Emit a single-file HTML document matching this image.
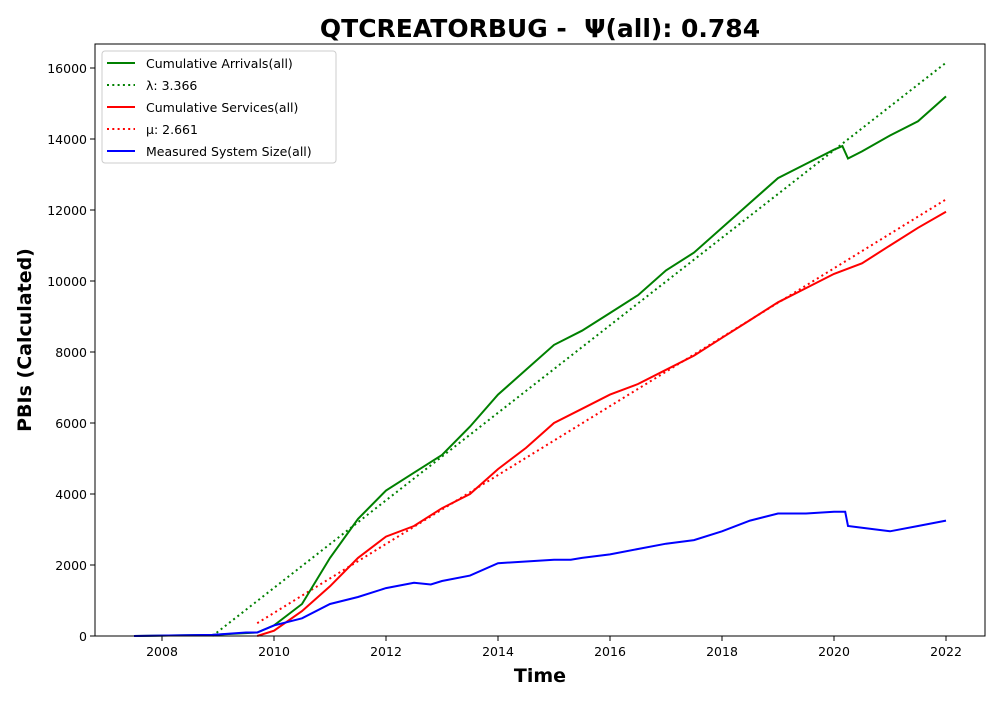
<!DOCTYPE html>
<html><head><meta charset="utf-8"><style>body{margin:0;background:#fff}svg{font-family:"DejaVu Sans","Liberation Sans",sans-serif}</style></head>
<body>
<svg id="c" width="1000" height="700" xmlns="http://www.w3.org/2000/svg"></svg>
<script>
const arrYears=[2007.5,2008.9,2009.7,2010,2010.5,2011,2011.5,2012,2012.5,2013,2013.5,2014,2014.5,2015,2015.5,2016,2016.5,2017,2017.5,2018,2018.5,2019,2019.5,2020,2020.15,2020.25,2020.5,2021,2021.5,2022];
const arrVals=[0,30,100,300,900,2200,3300,4100,4600,5100,5900,6800,7500,8200,8600,9100,9600,10300,10800,11500,12200,12900,13300,13700,13800,13450,13650,14100,14500,15200];
const srvYears=[2009.7,2010,2010.5,2011,2011.5,2012,2012.5,2013,2013.5,2014,2014.5,2015,2015.5,2016,2016.5,2017,2017.5,2018,2018.5,2019,2019.5,2020,2020.5,2021,2021.5,2022];
const srvVals=[0,150,700,1400,2200,2800,3100,3600,4000,4700,5300,6000,6400,6800,7100,7500,7900,8400,8900,9400,9800,10200,10500,11000,11500,11950];
const sysYears=[2007.5,2008.9,2009.5,2009.7,2010,2010.5,2011,2011.5,2012,2012.5,2012.8,2013,2013.5,2014,2014.5,2015,2015.3,2015.5,2016,2016.5,2017,2017.5,2018,2018.5,2019,2019.5,2020,2020.2,2020.25,2020.5,2021,2021.5,2022];
const sysVals=[0,30,100,100,300,500,900,1100,1350,1500,1450,1550,1700,2050,2100,2150,2150,2200,2300,2450,2600,2700,2950,3250,3450,3450,3500,3500,3100,3050,2950,3100,3250];
const lamYears=[2008.9,2022]; const lamVals=[0,16150];
const muYears=[2009.7,2022]; const muVals=[360,12300];
const xTicks=[2008,2010,2012,2014,2016,2018,2020,2022];
const yTicks=[0,2000,4000,6000,8000,10000,12000,14000,16000];
const legendLabels=["Cumulative Arrivals(all)","\u03bb: 3.366","Cumulative Services(all)","\u03bc: 2.661","Measured System Size(all)"];
const X=y=>162+56*(y-2008), Y=v=>636-v*0.0355;
const svg=document.getElementById('c'),NS="http://www.w3.org/2000/svg";
function mk(t,a,p){const e=document.createElementNS(NS,t);for(const k in a)e.setAttribute(k,a[k]);(p||svg).appendChild(e);return e;}
function txt(s,a,name){const e=mk('text',a);e.textContent=s;return e;}
txt("QTCREATORBUG - \u00a0\u03a8(all): 0.784",{x:540,y:37,'text-anchor':'middle','font-size':25,'font-weight':'bold'},'chart-title');
txt("Time",{x:540,y:682,'text-anchor':'middle','font-size':19,'font-weight':'bold'},'x-axis-title');
txt("PBIs (Calculated)",{x:31,y:340,'text-anchor':'middle','font-size':19,'font-weight':'bold',transform:'rotate(-90 31 340)'},'y-axis-title');
xTicks.forEach(t=>{const l=mk('line',{x1:X(t),x2:X(t),y1:636,y2:641,stroke:'#000'});
txt(String(t),{x:X(t),y:656,'text-anchor':'middle','font-size':12.5},'x-tick-label');});
yTicks.forEach(t=>{const l=mk('line',{x1:90,x2:95,y1:Y(t),y2:Y(t),stroke:'#000'});
txt(String(t),{x:87,y:Y(t)+5,'text-anchor':'end','font-size':12.5},'y-tick-label');});
function line(xs,vs,col,dash,name){const d=xs.map((x,i)=>(i?'L':'M')+X(x).toFixed(1)+','+Y(vs[i]).toFixed(1)).join('');
const p=mk('path',{d:d,fill:'none',stroke:col,'stroke-width':2,'stroke-dasharray':dash?'2,3.3':'none'});}
line(lamYears,lamVals,'green',1,'lambda-fit-line');
line(muYears,muVals,'red',1,'mu-fit-line');
line(arrYears,arrVals,'green',0,'cumulative-arrivals-line');
line(srvYears,srvVals,'red',0,'cumulative-services-line');
line(sysYears,sysVals,'blue',0,'system-size-line');
const f=mk('rect',{x:95,y:44,width:890,height:592,fill:'none',stroke:'#000','stroke-width':1});
const g=mk('g',{});
mk('rect',{x:102,y:51,width:234,height:112,rx:3,fill:'#fff','fill-opacity':0.8,stroke:'#ccc'},g);
const cols=['green','green','red','red','blue'],dash=[0,1,0,1,0];
legendLabels.forEach((s,i)=>{const y=63+i*22;
const l=mk('line',{x1:107,x2:135,y1:y,y2:y,stroke:cols[i],'stroke-width':2,'stroke-dasharray':dash[i]?'2,3.3':'none'},g);
const t=mk('text',{x:146,y:y+5,'font-size':12.5},g);t.textContent=s;});
</script>
</body></html>
